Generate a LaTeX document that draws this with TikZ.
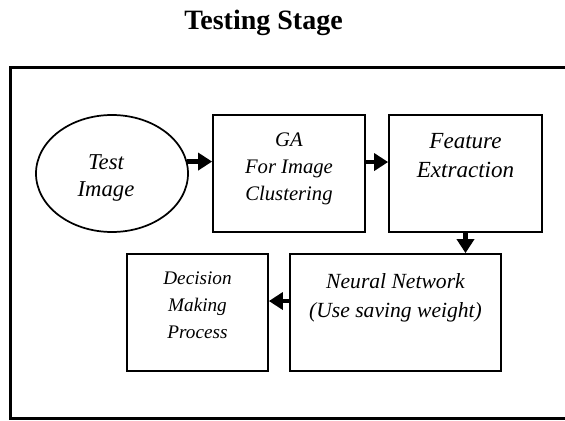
\documentclass[tikz,border=0pt]{standalone}
\usepackage{fontspec}
\setmainfont{Liberation Serif}
\usetikzlibrary{arrows.meta,shapes.geometric}
\begin{document}
\begin{tikzpicture}[x=0.75pt,y=-0.75pt,
  stagebox/.style={draw,line width=1.3pt,inner sep=0pt,minimum height=87.75pt},
  oval/.style={draw,ellipse,line width=1.3pt,inner sep=0pt,minimum width=114pt,minimum height=87.75pt},
  lbl/.style={anchor=north,inner sep=0pt,align=center},
  flow/.style={line width=3.4pt,-{Triangle[length=10.5pt,width=12.75pt]}}]
\useasboundingbox (0,0) rectangle (565,421);
% outer frame
\draw[line width=2.25pt] (567,67) -- (10,67) -- (10,418) -- (567,418);
% title
\node[font=\bfseries\fontsize{21}{25}\selectfont, anchor=base, inner sep=0pt] (title) at (263.5,29) {Testing Stage};
% shapes
\node[oval] (test) at (112,173.5) {};
\node[stagebox, minimum width=114pt] (ga) at (289,173.5) {};
\node[stagebox, minimum width=114.75pt] (fe) at (465.5,173.5) {};
\node[stagebox, minimum width=158.25pt] (nn) at (395.5,312.5) {};
\node[stagebox, minimum width=105.75pt] (dm) at (197.5,312.5) {};
% texts
\node[lbl, font=\itshape\fontsize{17}{20.25}\selectfont] (testtxt) at (106,154) {Test\\Image};
\node[lbl, font=\itshape\fontsize{15.5}{20.25}\selectfont] (gatxt) at (289,133) {GA\\For Image\\Clustering};
\node[lbl, font=\itshape\fontsize{17.3}{21.75}\selectfont] (fetxt) at (465.5,133) {Feature\\Extraction};
\node[lbl, font=\itshape\fontsize{16.2}{21.75}\selectfont] (nntxt) at (395.5,273) {Neural Network\\(Use saving weight)};
\node[lbl, font=\itshape\fontsize{14.4}{20.25}\selectfont] (dmtxt) at (197.5,272) {Decision\\Making\\Process};
% connectors
\draw[flow] (test.9) -- (test.9 -| ga.west);
\draw[flow] ([yshift=8.6pt]ga.east) -- ([yshift=8.6pt]fe.west);
\draw[flow] (fe.south) -- (fe.south |- nn.north);
\draw[flow] ([yshift=8.6pt]nn.west) -- ([yshift=8.6pt]dm.east);
\end{tikzpicture}
\end{document}
